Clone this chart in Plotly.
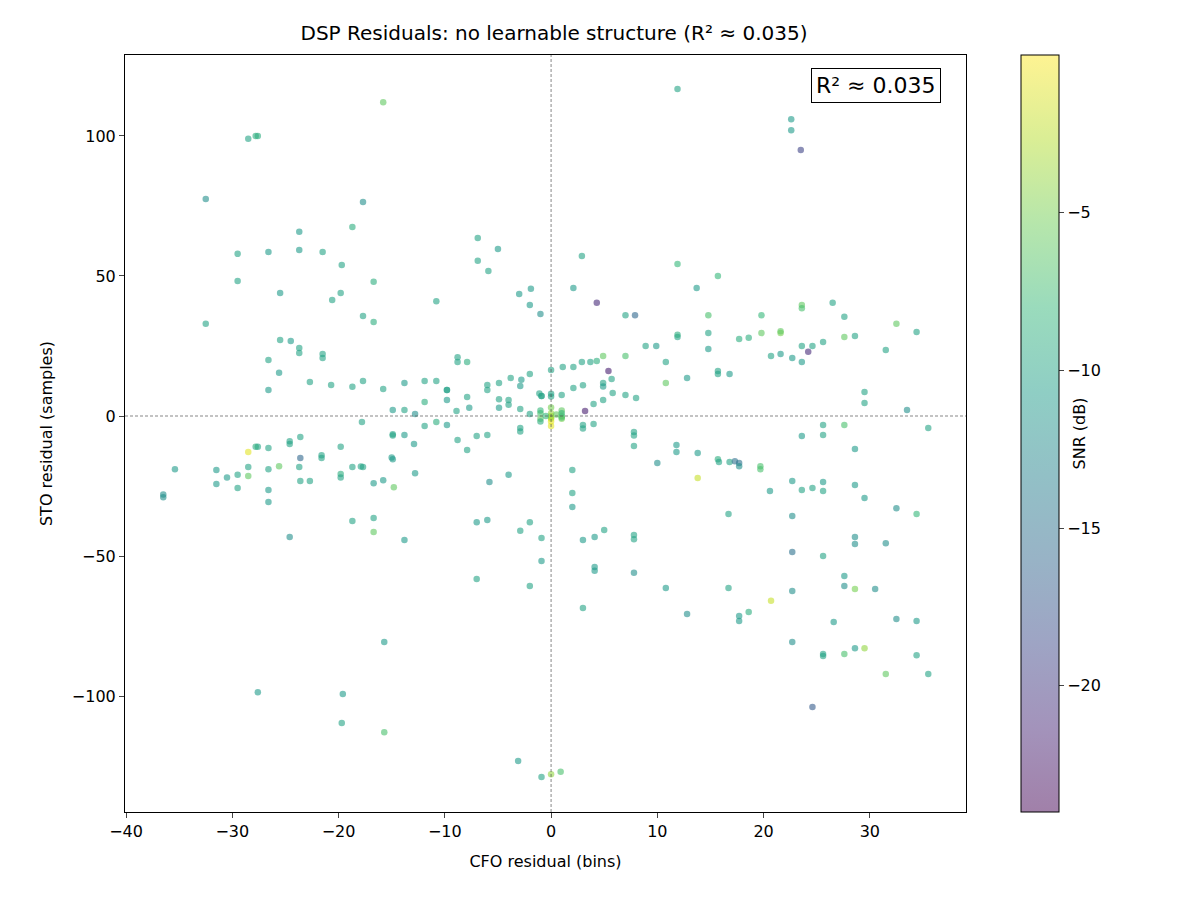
import plotly.graph_objects as go
import plotly.colors as pc

cfo = [-15.8,11.9,22.6,22.6,23.5,-28.5,-27.6,-27.8,-32.5,-17.7,-23.7,-23.7,-26.6,-29.5,-21.5,-18.7,-6.9,-5,-6.9,-5.9,
       -19.7,-19.8,-20.6,-16.7,-25.5,-29.5,-1.9,-3,-2,-1,-10.8,2.1,2.9,4.3,11.9,15.7,13.7,-32.5,-17.7,-16.7,
       -25.5,-24.5,-23.7,-23.7,-21.5,-21.5,-26.6,-25.6,-22.7,-20.7,-18.7,-17.7,-15.8,-13.8,-11.9,-10.8,-8.8,-8.8,-7.9,-9.8,
       -7.9,-6,-6,-4.9,-3.8,-2.8,-2,-0.9,0,-12.8,-11.9,-14.9,-13.8,-26.6,
       -36.5,-36.5,-35.4,-31.5,-31.5,-30.5,-29.5,-29.5,-28.5,-28.5,-28.5,-27.6,-27.8,-26.6,-26.6,-26.6,-26.6,-25.6,-24.6,-24.6,
       -23.6,-23.6,-23.6,-22.7,-23.7,-21.6,-21.6,-19.8,-19.8,-19.8,-18.7,-17.7,-17.9,-18.7,-16.7,-16.7,-16.7,-15.8,-14.9,-14.9,
       -14.9,-15.0,-14.8,-13.8,-12.9,-12.8,-13.8,-24.6,-17.8,-11.9,-10.8,-9.8,-8.8,-7.9,-7,-6,-5.8,-7,-6,-7,
       -4,-2.9,-2.9,-2.9,-2,-0.9,-2,-0.9,-19.6,-27.6,-15.7,-19.7,-15.7,-3.1,-0.9,0,0.9,
       4.3,3.7,4.9,7,2.9,2.1,1.1,3,2.1,4.9,4.9,5.7,5.8,7,8,5.4,3.2,4,4.9,7,7.9,8.9,9.9,10.8,10.8,12.8,11.9,11.9,
       14.8,14.8,14.8,15.7,15.7,16.8,17.7,18.6,19.8,19.8,21.6,21.6,20.7,21.6,22.7,23.6,23.6,23.6,24.6,24.2,23.6,25.6,26.5,27.6,27.6,
       28.6,29.5,29.5,31.5,33.5,32.5,34.4,35.5,
       3,3,4,2,2,2,3,4.1,4.1,4.1,5,3,7.8,7.8,7.8,7.8,7.8,7.8,10,10.8,11.8,11.8,13.8,13.8,12.8,15.7,15.8,16.8,17.3,17.7,
       17.7,16.7,16.7,17.7,17.7,18.6,19.7,19.7,20.6,20.7,22.7,22.7,22.7,22.7,22.7,23.6,23.6,24.6,24.6,25.6,25.6,25.6,25.6,25.6,
       25.6,25.6,26.6,27.6,27.6,27.6,27.6,28.6,28.6,28.6,28.6,28.6,28.6,29.5,29.5,30.5,31.5,31.5,32.5,32.5,34.4,34.4,34.4,35.5,
       0,0,0,-1,-1,-1,0,0,0,0,1,1,1,1,0,1,-0.9,-1.1,-2.9,-4,-4,-4.9,-4.9,-2.9,-2,-7.7,-8.9,-9.8,-9.8,0,0.5,-0.5,1,-1]
sto = [112,116.8,106,102,95,99,100,100,77.5,76.4,59.3,65.8,58.6,57.9,58.6,67.5,63.6,59.6,55.4,51.8,
       53.9,43.9,41.4,47.9,43.9,48.2,45.4,43.6,39.6,36.4,41,45.7,57.1,40.4,54.3,50,45.7,32.9,35.7,33.6,
       27.1,26.8,24.3,22.5,22.1,20.7,20,15.4,12.1,11.1,10.4,12.5,9.6,11.8,12.5,12.5,21,19.3,19.3,9.3,
       6.8,9.3,11.1,11.8,13.6,12.9,15,7.1,7.9,0.7,5,2.1,2.1,9.3,
       -29,-28,-19,-24.3,-19.3,-22,-21,-25.7,-18.2,-21.4,-12.9,-11,-11,-11.4,-19,-26.4,-30.7,-17.9,-10,-9,
       -7.5,-15,-23.2,-23.2,-18.2,-14,-15,-11,-20.7,-22,-18.2,-18.2,-18,-37.5,-36.4,-41.4,-24,-22.9,-7,-6.5,
       -15.4,-14.8,-25.4,-6.8,-10,-20.4,-44.3,-43.2,-2.1,-3.6,-2.1,-3.2,-8.6,-12.1,-7.1,-6.8,-23.6,-37.9,-37.1,-58.2,
       -21,-4.3,-5.5,-41,-37.9,-43.6,-60.7,-51.8,-99.3,-98.6,-80.7,-109.6,-112.9,-123.2,-128.9,-127.9,-127,
       19.6,19.3,21.4,21.4,19.3,17.5,17.5,11,10,11.8,10.5,13.2,8.2,7.5,6.4,16.1,1.8,4.3,5.7,36,36,25,25,19.3,11.8,13.6,28.2,29,
       23.9,36,29.6,16.1,15,15,27.5,27.9,36,29.6,29.6,30.3,21.4,22.1,20.7,39.6,38.5,25,25,22.9,19.3,26.4,40.4,35.4,28.2,
       28.6,8.6,4.6,23.6,2.1,32.9,30,-4.3,
       -3.2,-4.5,-2.9,-19.3,-27.5,-32.5,-44.3,-43.2,-53.9,-55.3,-40.7,-68.6,-5.7,-7,-10.7,-42.5,-44,-56,-16.8,-61.4,-10.4,-12.9,-13.2,-22.1,-70.7,-15.4,-16.4,-16.4,-16.2,-16.8,
       -17.9,-35,-61.4,-71.4,-73.2,-70,-17.9,-19,-26.8,-66,-23.2,-35.7,-48.6,-62.5,-80.7,-7.1,-26.4,-25.7,-103.9,-3.2,-6.8,-23.6,-26.8,-50,
       -85,-85.7,-73.6,-3.2,-57.1,-60.7,-85,-82.9,-11.8,-24.6,-43.2,-45.7,-61.8,-29.3,-82.9,-61.8,-45.4,-92.1,-32.9,-72.5,-35,-73.2,-85.4,-92.1,
       0,1,-1,1,-1,2,-2,3,16.4,7,0,2,-1,1,-3.6,7.5,7.1,8.0,10.7,4,5.7,6,2.9,2.5,0.7,2.9,1.8,5.7,9.3,-0.5,0.5,0,-0.5,-2]
snr = [-6,-10,-11,-11,-19,-10,-9,-9,-12,-12,-11,-11,-11,-10,-10,-9,-10,-11,-10,-10,
       -10,-10,-10,-9,-11,-10,-11,-11,-11,-12,-10,-11,-10,-21,-8,-8,-11,-10,-10,-9,
       -10,-11,-10,-10,-10,-10,-10,-11,-10,-10,-10,-10,-10,-11,-10,-10,-10,-10,-9,-11,
       -10,-10,-10,-10,-10,-11,-10,-10,-10,-12,-9,-11,-10,-11,
       -12,-12,-11,-11,-11,-11,-10,-10,-10,-6,-1,-10,-9,-10,-10,-11,-11,-6,-10,-10,
       -10,-16,-10,-10,-10,-10,-10,-10,-9,-10,-10,-10,-10,-10,-10,-6,-11,-11,-10,-10,
       -11,-11,-6,-11,-11,-11,-11,-12,-10,-10,-9,-11,-10,-10,-10,-10,-12,-11,-11,-10,
       -11,-10,-10,-10,-10,-10,-10,-11,-11,-11,-11,-10,-7,-11,-10,-4,-7,
       -9,-10,-6,-7,-10,-10,-10,-10,-10,-10,-11,-10,-10,-10,-10,-22,-22,-10,-10,-10,-16,-10,-11,-10,-6,-11,-10,-9,
       -11,-7,-10,-10,-10,-11,-9,-9,-8,-6,-5,-6,-10,-11,-11,-6,-7,-10,-10,-21,-11,-10,-10,-10,-6,
       -10,-10,-10,-10,-12,-6,-10,-10,
       -10,-10,-10,-10,-10,-11,-11,-11,-11,-11,-10,-10,-10,-10,-10,-10,-10,-12,-12,-11,-11,-11,-11,-2,-12,-9,-10,-10,-15,-15,
       -12,-10,-10,-11,-11,-9,-7,-7,-11,-2,-11,-12,-15,-12,-12,-11,-10,-10,-17,-10,-10,-11,-10,-10,
       -10,-10,-11,-7,-11,-12,-7,-11,-11,-11,-12,-12,-5,-11,-4,-12,-12,-6,-12,-12,-8,-11,-10,-10,
       -3,-4,-2,-7,-6,-8,-1,-5,-10,-10,-7,-6,-5,-8,-1,-10,-10,-10,-11,-10,-10,-10,-11,-10,-10,-11,-10,-11,-10,-4,-6,-8,-7,-9]

vir = pc.sequential.Viridis
faded = []
for i, c in enumerate(vir):
    r, g, b = pc.hex_to_rgb(c)
    a = 0.5
    faded.append([i / (len(vir) - 1), f"rgb({int(r*a+255*(1-a))},{int(g*a+255*(1-a))},{int(b*a+255*(1-a))})"])

fig = go.Figure()
fig.add_trace(go.Scatter(
    x=cfo, y=sto, mode="markers",
    marker=dict(size=6.5, color=snr, colorscale="Viridis", cmin=-24, cmax=0, opacity=0.6,
                line=dict(width=0)),
    showlegend=False))
fig.add_trace(go.Scatter(
    x=[None], y=[None], mode="markers", showlegend=False, hoverinfo="skip",
    marker=dict(color=[-24, 0], colorscale=faded, cmin=-24, cmax=0, showscale=True,
                colorbar=dict(title=dict(text="SNR (dB)", side="right", font=dict(size=16)),
                              tickvals=[-5, -10, -15, -20], ticktext=["−5", "−10", "−15", "−20"],
                              ticks="outside", ticklen=5, len=1.0, lenmode="fraction", y=0.5, yanchor="middle",
                              thickness=38, x=1.065, xpad=0, ypad=0, outlinewidth=1, outlinecolor="black",
                              tickfont=dict(size=16)))))

axis_common = dict(showgrid=False, zeroline=False, showline=True, linecolor="black", mirror=True,
                   ticks="outside", ticklen=5, tickfont=dict(size=16))
fig.update_layout(
    width=1200, height=900, plot_bgcolor="white", paper_bgcolor="white",
    font=dict(family="DejaVu Sans", color="black"),
    margin=dict(l=117, r=242, t=47, b=96),
    title=dict(text="DSP Residuals: no learnable structure (R² ≈ 0.035)", x=0.455, xanchor="center",
               yref="container", y=0.972, yanchor="middle", font=dict(size=20)),
    xaxis=dict(range=[-40.1, 39.05], tickvals=[-40, -30, -20, -10, 0, 10, 20, 30],
               ticktext=["−40", "−30", "−20", "−10", "0", "10", "20", "30"],
               title=dict(text="CFO residual (bins)", font=dict(size=16)), **axis_common),
    yaxis=dict(range=[-141.4, 128.9], tickvals=[-100, -50, 0, 50, 100],
               ticktext=["−100", "−50", "0", "50", "100"],
               title=dict(text="STO residual (samples)", font=dict(size=16)), **axis_common),
    shapes=[dict(type="line", xref="x", yref="paper", x0=0, x1=0, y0=0, y1=1,
                 line=dict(color="#555", width=0.7, dash="3px,2px")),
            dict(type="line", xref="paper", yref="y", x0=0, x1=1, y0=0, y1=0,
                 line=dict(color="#555", width=0.7, dash="3px,2px"))],
    annotations=[dict(text="R² ≈ 0.035", xref="paper", yref="paper", x=0.97, y=0.983,
                      xanchor="right", yanchor="top", showarrow=False, font=dict(size=22),
                      bgcolor="white", bordercolor="black", borderwidth=1, borderpad=4)]
)
fig.write_html("out.html")
